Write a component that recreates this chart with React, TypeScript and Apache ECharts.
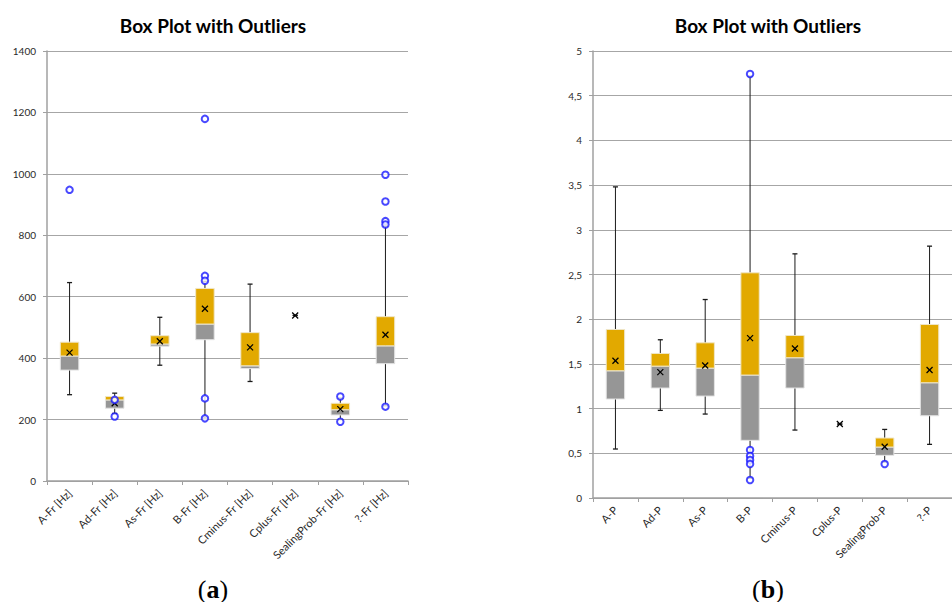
import React, { useEffect, useRef } from "react";
import * as echarts from "echarts";

// ---------- data ----------
const catsA = ["A-Fr [Hz]", "Ad-Fr [Hz]", "As-Fr [Hz]", "B-Fr [Hz]", "Cminus-Fr [Hz]", "Cplus-Fr [Hz]", "SealingProb-Fr [Hz]", "?-Fr [Hz]"];
// [whiskerMin, q1, median, q3, whiskerMax, mean]
const statsA = [
  [281, 361, 407, 452, 646, 418],
  [220, 237, 264, 275, 286, 253],
  [377, 439, 446, 473, 533, 455],
  [205, 460, 511, 627, 650, 561],
  [324, 366, 375, 483, 641, 435],
  [539, 539, 539, 539, 539, 539],
  [200, 215, 232, 253, 270, 234],
  [245, 382, 440, 535, 830, 476],
];
const outliersA = [
  [948],
  [264, 210],
  [],
  [1179, 668, 652, 269, 204],
  [],
  [],
  [275, 193],
  [997, 910, 846, 835, 242],
];
const yTicksA = { min: 0, max: 1400, interval: 200 };

const catsB = ["A-P", "Ad-P", "As-P", "B-P", "Cminus-P", "Cplus-P", "SealingProb-P", "?-P"];
const statsB = [
  [0.548, 1.107, 1.423, 1.885, 3.48, 1.535],
  [0.98, 1.23, 1.475, 1.617, 1.77, 1.408],
  [0.939, 1.14, 1.453, 1.736, 2.22, 1.483],
  [0.22, 0.645, 1.375, 2.519, 4.72, 1.788],
  [0.76, 1.23, 1.569, 1.818, 2.731, 1.673],
  [0.827, 0.827, 0.827, 0.827, 0.827, 0.827],
  [0.4, 0.477, 0.57, 0.671, 0.767, 0.574],
  [0.6, 0.92, 1.289, 1.941, 2.817, 1.431],
];
const outliersB = [
  [],
  [],
  [],
  [4.743, 0.537, 0.47, 0.425, 0.38, 0.201],
  [],
  [],
  [0.38],
  [],
];
const yTicksB = { min: 0, max: 5, interval: 0.5 };

const titleText = "Box Plot with Outliers";

// ---------- styles ----------
const ORANGE = "#E2A900";
const GRAY = "#969696";
const GRID_LINE = "#a6a6a6";
const FONT = "Lato, 'Open Sans', sans-serif";

function renderBox(params: any, api: any) {
  const idx = api.value(0);
  const pMin = api.coord([idx, api.value(1)]);
  const pQ1 = api.coord([idx, api.value(2)]);
  const pMed = api.coord([idx, api.value(3)]);
  const pQ3 = api.coord([idx, api.value(4)]);
  const pMax = api.coord([idx, api.value(5)]);
  const pMean = api.coord([idx, api.value(6)]);
  const band = api.size([1, 0])[0];
  const bw = band * 0.41;
  const cx = pMin[0];
  const children: any[] = [];
  const lineStyle = { stroke: "#1a1a1a", lineWidth: 1 };
  children.push({ type: "line", shape: { x1: cx, y1: pMax[1], x2: cx, y2: pMin[1] }, style: lineStyle });
  children.push({ type: "line", shape: { x1: cx - 2.5, y1: pMax[1], x2: cx + 2.5, y2: pMax[1] }, style: { stroke: "#1a1a1a", lineWidth: 1.3 } });
  children.push({ type: "line", shape: { x1: cx - 2.5, y1: pMin[1], x2: cx + 2.5, y2: pMin[1] }, style: { stroke: "#1a1a1a", lineWidth: 1.3 } });
  const hLow = pQ1[1] - pMed[1];
  const hUp = pMed[1] - pQ3[1];
  if (hLow > 0.3) {
    children.push({ type: "rect", shape: { x: cx - bw / 2, y: pMed[1], width: bw, height: hLow }, style: { fill: GRAY, stroke: "#e4e4e4", lineWidth: 1 } });
  }
  if (hUp > 0.3) {
    children.push({ type: "rect", shape: { x: cx - bw / 2, y: pQ3[1], width: bw, height: hUp }, style: { fill: ORANGE, stroke: "#efe6c8", lineWidth: 1 } });
  }
  const m = 3;
  children.push({ type: "line", shape: { x1: pMean[0] - m, y1: pMean[1] - m, x2: pMean[0] + m, y2: pMean[1] + m }, style: { stroke: "#000", lineWidth: 1.3 } });
  children.push({ type: "line", shape: { x1: pMean[0] - m, y1: pMean[1] + m, x2: pMean[0] + m, y2: pMean[1] - m }, style: { stroke: "#000", lineWidth: 1.3 } });
  return { type: "group", children };
}

function buildOutliers(list: number[][]) {
  const out: number[][] = [];
  list.forEach((vals, i) => vals.forEach((v) => out.push([i, v])));
  return out;
}

export default function App() {
  const ref = useRef<HTMLDivElement>(null);
  useEffect(() => {
    if (!ref.current) return;
    const chart = echarts.init(ref.current, undefined, { renderer: "svg" });
    const axisLine = { lineStyle: { color: "#a0a0a0", width: 1.5 } };
    const mkX = (cats: string[], gi: number) => ({
      type: "category",
      gridIndex: gi,
      data: cats,
      boundaryGap: true,
      axisLine,
      axisTick: { show: true, length: 4, lineStyle: { color: "#a0a0a0", width: 1 } },
      axisLabel: { rotate: 45, interval: 0, color: "#2a2a2a", fontFamily: FONT, fontSize: 11, margin: 10 },
      splitLine: { show: false },
    });
    const mkY = (t: any, gi: number, fmt: (v: number) => string) => ({
      type: "value",
      gridIndex: gi,
      min: t.min,
      max: t.max,
      interval: t.interval,
      axisLine: { show: true, ...axisLine },
      axisTick: { show: true, length: 4, lineStyle: { color: "#a0a0a0", width: 1 } },
      axisLabel: { color: "#2a2a2a", fontFamily: FONT, fontSize: 10, margin: 11, formatter: fmt },
      splitLine: { show: true, lineStyle: { color: GRID_LINE, width: 1.2 } },
    });
    const scatterStyle = {
      type: "scatter",
      symbol: "emptyCircle",
      symbolSize: 6.5,
      itemStyle: { color: "#1a1aff", borderWidth: 1 },
      z: 5,
    };
    const subLabel = (x: number, letter: string) => ({
      type: "text",
      x,
      y: 589,
      style: {
        text: "{p|(}{b|" + letter + "}{p|)}",
        align: "center",
        verticalAlign: "middle",
        rich: {
          p: { fontFamily: "'Liberation Serif', serif", fontSize: 26, fill: "#000" },
          b: { fontFamily: "'Liberation Serif', serif", fontSize: 26, fontWeight: "bold", fill: "#000" },
        },
      },
    });
    chart.setOption({
      animation: false,
      backgroundColor: "#fff",
      grid: [
        { left: 47, top: 51, width: 361, height: 430 },
        { left: 593, top: 51, width: 369, height: 447 },
      ],
      xAxis: [mkX(catsA, 0), mkX(catsB, 1)],
      yAxis: [
        mkY(yTicksA, 0, (v: number) => String(v)),
        mkY(yTicksB, 1, (v: number) => String(v).replace(".", ",")),
      ],
      graphic: [
        { type: "text", x: 213, y: 25, style: { text: titleText, font: "bold 19px " + FONT, fill: "#000", align: "center", verticalAlign: "middle" } },
        { type: "text", x: 768, y: 25, style: { text: titleText, font: "bold 19px " + FONT, fill: "#000", align: "center", verticalAlign: "middle" } },
        subLabel(213, "a"),
        subLabel(768, "b"),
      ],
      series: [
        {
          type: "custom",
          xAxisIndex: 0,
          yAxisIndex: 0,
          renderItem: renderBox,
          encode: { x: 0, y: [1, 2, 3, 4, 5, 6] },
          data: statsA.map((s, i) => [i, ...s]),
          z: 3,
        },
        { ...scatterStyle, xAxisIndex: 0, yAxisIndex: 0, data: buildOutliers(outliersA) },
        {
          type: "custom",
          xAxisIndex: 1,
          yAxisIndex: 1,
          renderItem: renderBox,
          encode: { x: 0, y: [1, 2, 3, 4, 5, 6] },
          data: statsB.map((s, i) => [i, ...s]),
          z: 3,
        },
        { ...scatterStyle, xAxisIndex: 1, yAxisIndex: 1, data: buildOutliers(outliersB) },
      ],
    });
    return () => chart.dispose();
  }, []);
  return <div ref={ref} style={{ position: "fixed", left: 0, top: 0, width: 952, height: 602 }} />;
}
